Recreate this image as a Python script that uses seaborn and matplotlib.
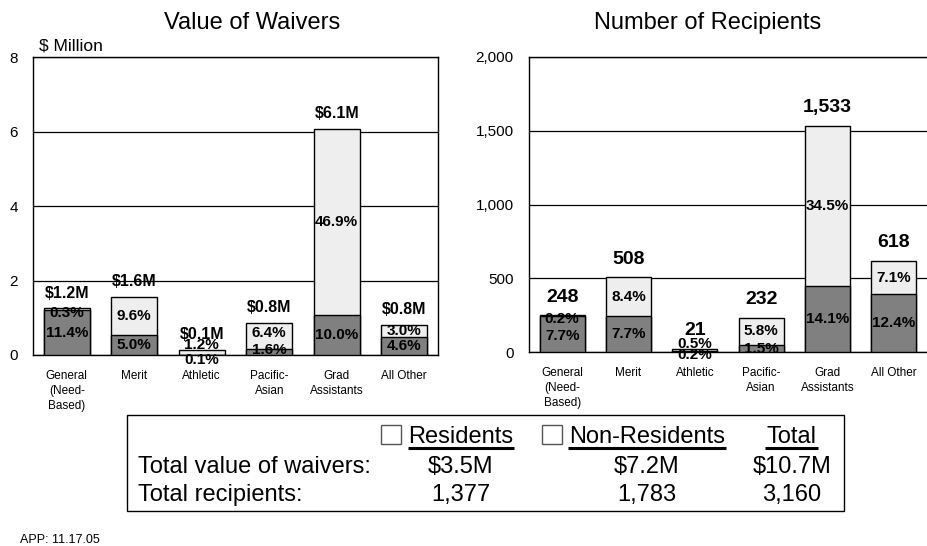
import pandas as pd
import numpy as np
import matplotlib
matplotlib.use('Agg')
import matplotlib.pyplot as plt
from matplotlib.patches import Rectangle
import seaborn as sns

# categories shared by both panels
categories = ["General\n(Need-\nBased)", "Merit", "Athletic", "Pacific-\nAsian", "Grad\nAssistants", "All Other"]

# Value of waivers ($ million), residents (dark) and non-residents (light)
waiver_res = [1.22, 0.54, 0.01, 0.17, 1.08, 0.49]
waiver_nonres = [0.03, 1.03, 0.13, 0.69, 5.00, 0.32]
waiver_res_pct = ["11.4%", "5.0%", "0.1%", "1.6%", "10.0%", "4.6%"]
waiver_nonres_pct = ["0.3%", "9.6%", "1.2%", "6.4%", "46.9%", "3.0%"]
waiver_total_labels = ["$1.2M", "$1.6M", "$0.1M", "$0.8M", "$6.1M", "$0.8M"]
waiver_ticks = [0, 2, 4, 6, 8]

# Number of recipients
recip_res = [243, 243, 6, 47, 446, 392]
recip_nonres = [5, 265, 15, 185, 1087, 226]
recip_res_pct = ["7.7%", "7.7%", "0.2%", "1.5%", "14.1%", "12.4%"]
recip_nonres_pct = ["0.2%", "8.4%", "0.5%", "5.8%", "34.5%", "7.1%"]
recip_ticks = [0, 500, 1000, 1500, 2000]

# summary table
table_rows = ["Total value of waivers:", "Total recipients:"]
table_res = ["$3.5M", "1,377"]
table_nonres = ["$7.2M", "1,783"]
table_total = ["$10.7M", "3,160"]

DARK = '#808080'
LIGHT = '#eeeeee'

sns.set_theme(style="white")
plt.rcParams['font.family'] = ['Liberation Sans', 'DejaVu Sans']
plt.rcParams['text.color'] = 'black'
plt.rcParams['xtick.color'] = 'black'
plt.rcParams['ytick.color'] = 'black'

W, H = 927, 546
fig = plt.figure(figsize=(W / 100, H / 100), dpi=100)


def px_axes(l, t, r, b):
    return fig.add_axes([l / W, 1 - b / H, (r - l) / W, (b - t) / H])


def stacked_panel(ax, res, nonres, res_pct, nonres_pct, total_labels, ticks, fmt,
                  total_size, total_off, nudges):
    df = pd.DataFrame({'cat': categories, 'res': res, 'nonres': nonres})
    df['total'] = df['res'] + df['nonres']
    sns.barplot(data=df, x='cat', y='total', color=LIGHT, saturation=1, width=0.68,
                edgecolor='black', linewidth=1, ax=ax, zorder=2)
    sns.barplot(data=df, x='cat', y='res', color=DARK, saturation=1, width=0.68,
                edgecolor='black', linewidth=1, ax=ax, zorder=3)
    ax.set_xlim(-0.5, len(categories) - 0.5)
    ax.set_ylim(ticks[0], ticks[-1])
    ax.set_yticks(ticks)
    ax.set_yticklabels([fmt(t) for t in ticks])
    ax.set_xlabel('')
    ax.set_ylabel('')
    ax.yaxis.grid(True, color='black', lw=0.9)
    ax.set_axisbelow(True)
    ax.tick_params(axis='y', length=0, pad=11, labelsize=11)
    ax.tick_params(axis='x', length=0, pad=11, labelsize=8.5)
    for lab in ax.get_xticklabels():
        lab.set_linespacing(1.3)
    for s in ax.spines.values():
        s.set_color('black')
        s.set_linewidth(1)
    for i in range(len(categories)):
        r, n = df['res'][i], df['nonres'][i]
        dr, dn = nudges.get(i, (0, 0))
        ax.annotate(res_pct[i], (i, r / 2), xytext=(0, dr), textcoords='offset pixels',
                    ha='center', va='center', fontsize=11, fontweight='bold', zorder=5)
        ax.annotate(nonres_pct[i], (i, r + n / 2), xytext=(0, dn), textcoords='offset pixels',
                    ha='center', va='center', fontsize=11, fontweight='bold', zorder=5)
        ax.annotate(total_labels[i], (i, r + n), xytext=(0, total_off), textcoords='offset pixels',
                    ha='center', va='center', fontsize=total_size, fontweight='bold', zorder=5)


ax1 = px_axes(33, 57, 438, 355)
stacked_panel(ax1, waiver_res, waiver_nonres, waiver_res_pct, waiver_nonres_pct,
              waiver_total_labels, waiver_ticks, lambda t: f"{t:g}", 11.5, 15,
              {0: (-1, -4), 2: (-5, 7), 3: (2, 3)})

ax2 = px_axes(529, 57, 927, 352)
recip_labels = [f"{a + b:,}" for a, b in zip(recip_res, recip_nonres)]
stacked_panel(ax2, recip_res, recip_nonres, recip_res_pct, recip_nonres_pct,
              recip_labels, recip_ticks, lambda t: f"{t:,}", 14, 18,
              {0: (-2, -3), 2: (-3, 6)})
ax2.spines['right'].set_visible(False)

# overlay in pixel coordinates for titles and the summary table
ov = fig.add_axes([0, 0, 1, 1], facecolor='none')
ov.set_xlim(0, W)
ov.set_ylim(H, 0)
ov.axis('off')

ov.text(252, 29, "Value of Waivers", ha='center', va='baseline', fontsize=17)
ov.text(708, 29, "Number of Recipients", ha='center', va='baseline', fontsize=17)
ov.text(39, 51, "$ Million", ha='left', va='baseline', fontsize=12.5)

ov.add_patch(Rectangle((127, 415), 844 - 127, 511 - 415, fill=False, ec='black', lw=1))
for x0 in (381, 542):
    ov.add_patch(Rectangle((x0, 425), 20, 19, facecolor='white', ec='#555555', lw=1))

cols = [461, 647, 792]
headers = ["Residents", "Non-Residents", "Total"]
for cx, hd in zip(cols, headers):
    ov.text(cx, 443, hd, ha='center', va='baseline', fontsize=17)
underlines = [(408, 514), (568, 726), (765, 818)]
for x0, x1 in underlines:
    ov.plot([x0, x1], [447.5, 447.5], color='black', lw=2.2, solid_capstyle='butt')

for j, label in enumerate(table_rows):
    yb = 473 + j * 28
    ov.text(138, yb, label, ha='left', va='baseline', fontsize=17)
    for cx, val in zip(cols, (table_res[j], table_nonres[j], table_total[j])):
        ov.text(cx, yb, val, ha='center', va='baseline', fontsize=17)

ov.text(20, 543, "APP: 11.17.05", ha='left', va='baseline', fontsize=9)

fig.savefig('out.png', dpi=100)
